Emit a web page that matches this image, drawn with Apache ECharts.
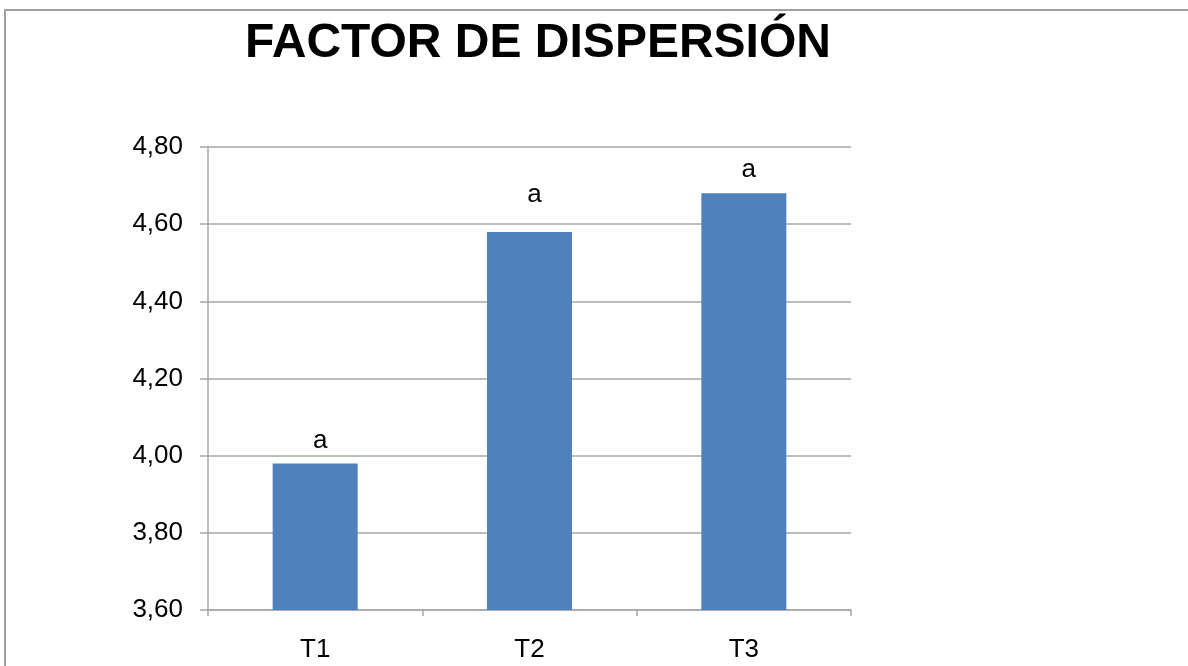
<!DOCTYPE html>
<html>
<head>
<meta charset="utf-8">
<script src="https://cdn.jsdelivr.net/npm/echarts@6/dist/echarts.min.js"></script>
<style>
html,body{margin:0;padding:0;background:#fff;}
#chart{width:1188px;height:666px;}
</style>
</head>
<body>
<div id="chart"></div>
<script>
const categories = ['T1', 'T2', 'T3'];
const values = [3.98, 4.58, 4.68];
const barLabels = ['a', 'a', 'a'];
const titleText = 'FACTOR DE DISPERSIÓN';

const chart = echarts.init(document.getElementById('chart'));
const gridColor = '#a6a6a6';
const labelDistance = [10, 24, 10];
chart.setOption({
  animation: false,
  backgroundColor: '#ffffff',
  title: {
    text: titleText,
    left: 533,
    textAlign: 'center',
    top: 15,
    textStyle: { fontFamily: 'Liberation Sans', fontWeight: 'bold', fontSize: 48, color: '#000' }
  },
  graphic: [{
    type: 'rect',
    shape: { x: 5, y: 10, width: 1300, height: 800 },
    style: { fill: 'none', stroke: '#a0a0a0', lineWidth: 2 },
    silent: true
  }],
  grid: { left: 208, right: 337, top: 147, bottom: 56, containLabel: false },
  xAxis: {
    type: 'category',
    data: categories,
    axisLine: { lineStyle: { color: gridColor, width: 1.5 } },
    axisTick: { show: true, length: 6, lineStyle: { color: gridColor, width: 1.5 } },
    axisLabel: { margin: 27, fontFamily: 'Liberation Sans', fontSize: 26, color: '#000' }
  },
  yAxis: {
    type: 'value',
    min: 3.6, max: 4.8, interval: 0.2,
    axisLine: { show: true, lineStyle: { color: gridColor, width: 1.5 } },
    axisTick: { show: true, length: 8, lineStyle: { color: gridColor, width: 1.5 } },
    splitLine: { lineStyle: { color: gridColor, width: 1.5 } },
    axisLabel: {
      margin: 25, fontFamily: 'Liberation Sans', fontSize: 26, color: '#000',
      formatter: v => v.toFixed(2).replace('.', ',')
    }
  },
  series: [{
    type: 'bar',
    data: values.map((v, i) => ({ value: v, label: { distance: labelDistance[i] } })),
    barWidth: 85,
    itemStyle: { color: '#4f81bd' },
    label: {
      show: true, position: 'top', offset: [5, 0],
      fontFamily: 'Liberation Sans', fontSize: 26, color: '#000',
      formatter: p => barLabels[p.dataIndex]
    }
  }]
});
</script>
</body>
</html>
